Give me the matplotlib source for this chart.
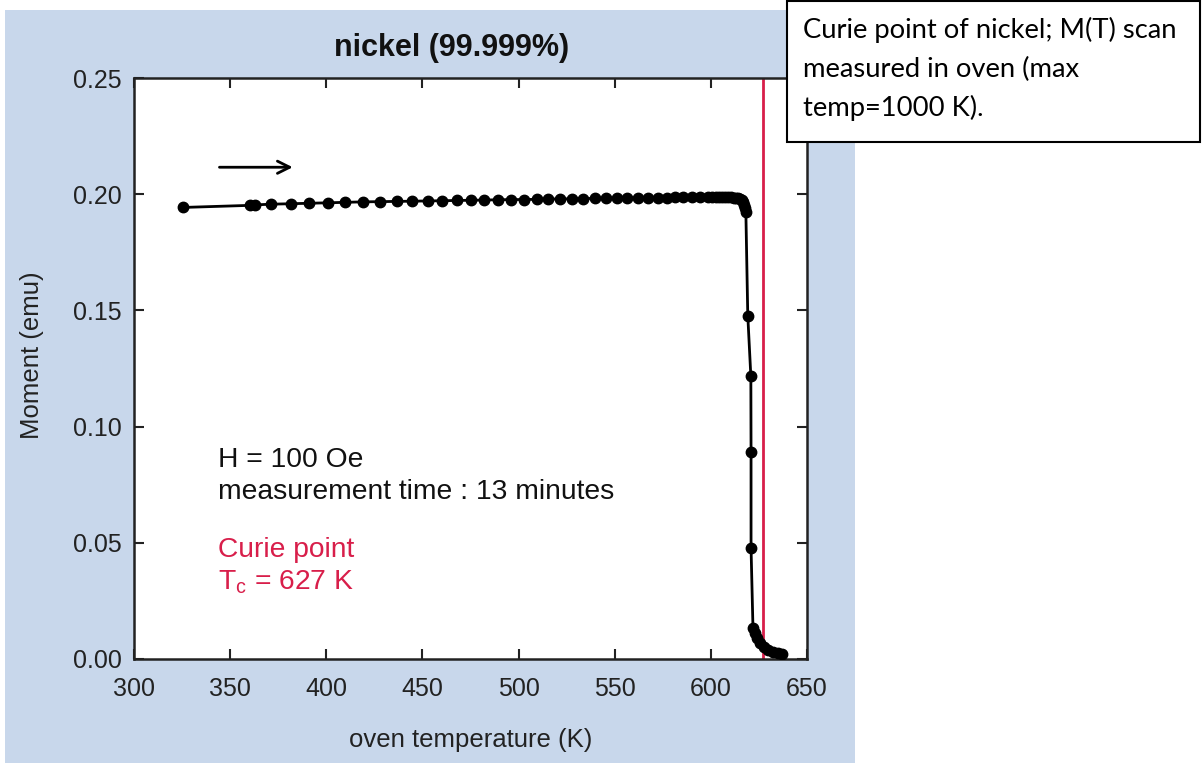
import matplotlib.pyplot as plt
from matplotlib.patches import Rectangle

# oven temperature (K) and moment (emu)
temperature = [325.5, 360.3, 362.9, 371.2, 381.5, 391.1, 400.7, 409.8, 418.9, 427.9,
               436.6, 444.7, 452.7, 460.3, 467.8, 475.1, 482.2, 489.4, 496.0, 502.8,
               509.4, 515.4, 521.5, 527.6, 533.6, 539.7, 545.3, 551.0, 556.5, 562.3,
               567.5, 572.7, 577.0, 581.3, 585.6, 590.0, 594.3, 598.6, 600.6, 602.5,
               604.3, 606.0, 607.6, 609.1, 610.5, 611.8, 613.0, 614.1, 615.1, 616.0,
               616.8, 617.4, 617.9, 618.2, 619.2, 620.8, 620.9, 620.9, 621.9, 622.9,
               624.0, 625.5, 627.6, 629.7, 632.3, 634.9, 637.0]
moment = [0.1943, 0.1952, 0.1954, 0.1957, 0.1959, 0.1961, 0.1963, 0.1965, 0.1967, 0.1968,
          0.1969, 0.1970, 0.1971, 0.1972, 0.1973, 0.1974, 0.1975, 0.1976, 0.1977, 0.1977,
          0.1978, 0.1979, 0.1980, 0.1980, 0.1981, 0.1982, 0.1982, 0.1983, 0.1983, 0.1984,
          0.1984, 0.1985, 0.1985, 0.1986, 0.1986, 0.1986, 0.1987, 0.1987, 0.1987, 0.1987,
          0.1987, 0.1987, 0.1987, 0.1986, 0.1986, 0.1985, 0.1984, 0.1982, 0.1979, 0.1974,
          0.1966, 0.1955, 0.1940, 0.1925, 0.1478, 0.1216, 0.0892, 0.0478, 0.0134, 0.0112,
          0.0090, 0.0069, 0.0052, 0.0039, 0.0030, 0.0026, 0.0022]

curie_T = 627
x_ticks = [300, 350, 400, 450, 500, 550, 600, 650]
y_ticks = [0.00, 0.05, 0.10, 0.15, 0.20, 0.25]

W, H = 1202, 763
red = "#d81e4a"
plt.rcParams["font.family"] = ["Liberation Sans", "DejaVu Sans"]

fig = plt.figure(figsize=(W / 100, H / 100), dpi=100)
fig.patch.set_facecolor("white")

# blue panel behind the chart
fig.patches.append(Rectangle((5 / W, 0), 850 / W, 1 - 10 / H, transform=fig.transFigure,
                             facecolor="#c8d7eb", edgecolor="none", zorder=-10))

ax = fig.add_axes([134 / W, 1 - 659 / H, (807 - 134) / W, (659 - 78) / H])
ax.set_zorder(1)
ax.set_facecolor("white")

ax.plot(temperature, moment, color="black", lw=2, marker="o", markersize=7.5, zorder=3)
ax.axvline(curie_T, color=red, lw=2, zorder=2)

ax.set_xlim(300, 650)
ax.set_ylim(0, 0.25)
ax.set_xticks(x_ticks)
ax.set_yticks(y_ticks)
ax.set_yticklabels([f"{v:.2f}" for v in y_ticks])
ax.tick_params(direction="in", length=7, width=1.5, color="#222222", labelsize=18,
               top=True, right=True, labelcolor="#222222")
ax.tick_params(axis="x", pad=13)
ax.tick_params(axis="y", pad=9)
for s in ax.spines.values():
    s.set_linewidth(1.8)
    s.set_color("#222222")

ax.annotate("", xy=(384, 0.2116), xytext=(343, 0.2116),
            arrowprops=dict(arrowstyle="->", lw=2, color="black", mutation_scale=22))

ax.text(343.7, 0.0858, "H = 100 Oe", fontsize=20.3, va="center", color="#111111")
ax.text(343.7, 0.0720, "measurement time : 13 minutes", fontsize=20.3, va="center", color="#111111")
ax.text(343.7, 0.0470, "Curie point", fontsize=20.3, va="center", color=red)
ax.text(343.7, 0.0332, r"T$_\mathregular{c}$ = 627 K", fontsize=20.3, va="center", color=red)

fig.text(452 / W, 1 - 48 / H, "nickel (99.999%)", fontsize=22, fontweight="bold",
         ha="center", va="center", color="#111111")
fig.text(471 / W, 1 - 740 / H, "oven temperature (K)", fontsize=18.5, ha="center", va="center",
         color="#222222")
fig.text(32 / W, 1 - 355 / H, "Moment (emu)", fontsize=18.5, rotation=90, ha="center",
         va="center", color="#222222")

# note box in the top right corner
note_box = Rectangle((787 / W, 1 - 142 / H), (1200 - 787) / W, 141 / H,
                     transform=fig.transFigure, facecolor="white",
                     edgecolor="black", lw=1.5)
note_box.set_zorder(5)
fig.patches.append(note_box)
note = ["Curie point of nickel; M(T) scan", "measured in oven (max", "temp=1000 K)."]
for i, line in enumerate(note):
    fig.text(803 / W, 1 - (30 + 39 * i) / H, line, fontsize=19.7, family="Lato",
             va="center", ha="left", color="black", zorder=6)

fig.savefig("out.png", dpi=100)
